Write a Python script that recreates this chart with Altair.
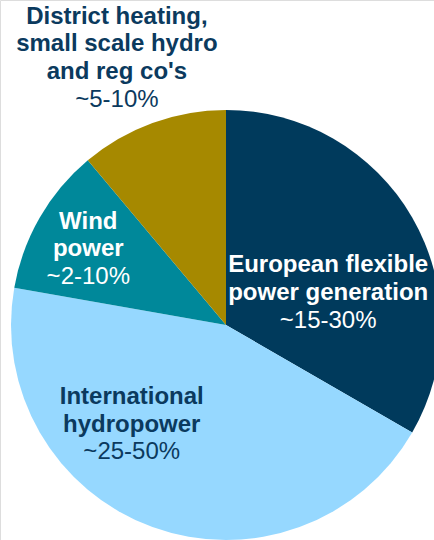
import altair as alt
import pandas as pd

# ---- data ----
categories = [
    "European flexible power generation",
    "International hydropower",
    "Wind power",
    "District heating, small scale hydro and reg co's",
]
shares = [30, 40, 10, 10]
ranges = ["~15-30%", "~25-50%", "~2-10%", "~5-10%"]
name_lines = [
    "European flexible\npower generation",
    "International\nhydropower",
    "Wind\npower",
    "District heating,\nsmall scale hydro\nand reg co's",
]

# ---- styling ----
slice_colors = ["#003A5C", "#96D8FF", "#00889A", "#A68900"]
text_colors = ["#FFFFFF", "#0B3A5E", "#FFFFFF", "#0B3A5E"]
# label placement: (radius, dx, dy) relative to slice mid-angle
placement = [(118, 0, 27), (106, -58, 0), (159, 0, 4), (319, 0, 33)]
CX, CY, R = 226, 325, 215
FONT = "Liberation Sans"
FS = 24
LH = 27.7

total = sum(shares)
df = pd.DataFrame({
    "category": categories,
    "share": shares,
    "range": ranges,
    "name": name_lines,
    "rank": list(range(len(categories))),
})

theta_scale = alt.Scale(domain=[0, total])
base = alt.Chart(df)

pie = base.mark_arc(outerRadius=R, strokeWidth=0).encode(
    theta=alt.Theta("share:Q", stack=True, scale=theta_scale),
    color=alt.Color("category:N", scale=alt.Scale(domain=categories, range=slice_colors), legend=None),
    order=alt.Order("rank:Q"),
    x=alt.value(CX),
    y=alt.value(CY),
)

layers = [pie]
for i in range(len(categories)):
    r, dx, dy = placement[i]
    n = name_lines[i].count("\n") + 1
    lab = (
        base.transform_window(cum="sum(share)", sort=[alt.SortField("rank")])
        .transform_calculate(mid="datum.cum - datum.share / 2")
        .transform_filter(alt.datum.rank == i)
    )
    enc = dict(
        theta=alt.Theta("mid:Q", stack=False, scale=theta_scale),
        x=alt.value(CX),
        y=alt.value(CY),
    )
    name = lab.mark_text(
        font=FONT, fontSize=FS, fontWeight="bold", lineHeight=LH, lineBreak="\n",
        align="center", baseline="middle", radius=r, dx=dx, dy=dy - n * LH / 2,
        color=text_colors[i],
    ).encode(text="name:N", **enc)
    pct = lab.mark_text(
        font=FONT, fontSize=FS, fontWeight="normal",
        align="center", baseline="middle", radius=r, dx=dx, dy=dy + n * LH / 2,
        color=text_colors[i],
    ).encode(text="range:N", **enc)
    layers += [name, pct]

chart = alt.layer(*layers).properties(
    width=434, height=540, autosize=alt.AutoSizeParams(type="none"), padding=0,
).configure_view(stroke=None).configure(background="white")

chart.save("out.html", embed_options={"renderer": "svg", "actions": False})
